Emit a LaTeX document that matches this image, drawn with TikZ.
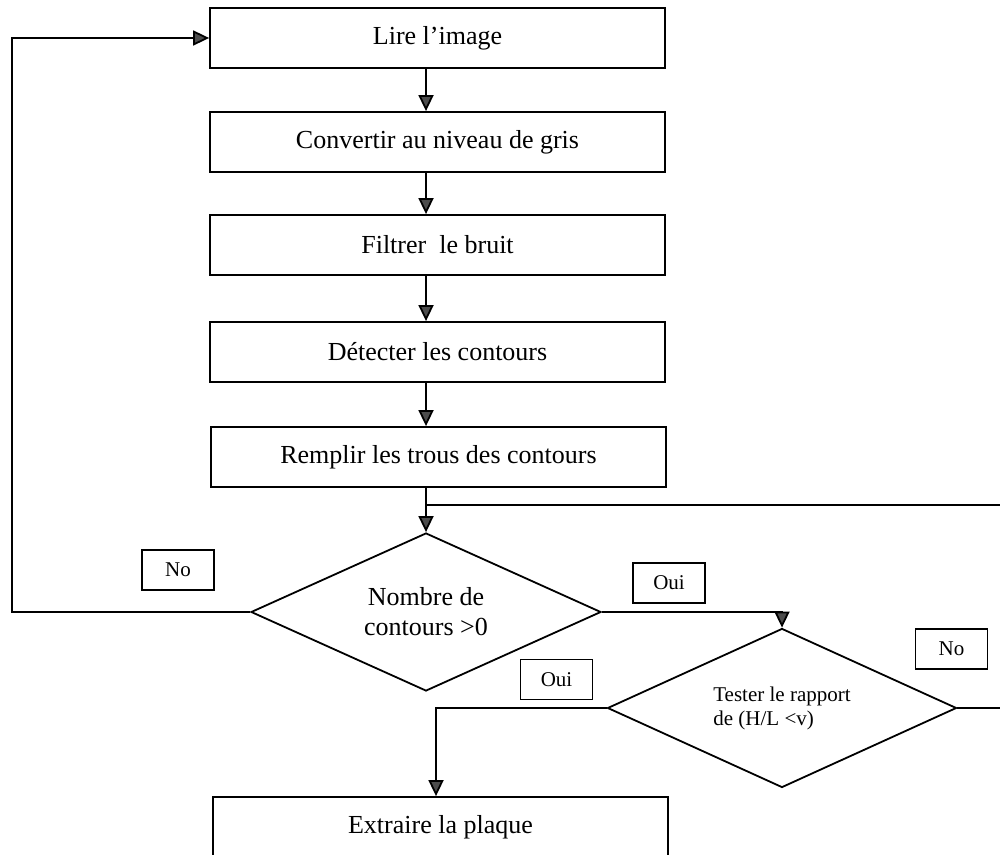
\documentclass[tikz,border=0pt]{standalone}
\usepackage{fontspec}
\setmainfont{Liberation Serif}
\usetikzlibrary{shapes.geometric,arrows.meta}
\begin{document}
\begin{tikzpicture}[x=.5pt, y=-.5pt, line width=.9pt,
  >={Triangle[length=8pt,width=7.5pt,fill=black!70]},
  boite/.style={draw, minimum width=227.5pt, minimum height=30pt, font=\fontsize{13}{15}\selectfont},
  test/.style={draw, diamond, shape aspect=2.2, inner sep=0pt},
  rep/.style={draw, line width=.8pt, minimum width=36pt, minimum height=20pt, inner sep=0pt, font=\fontsize{10.5}{12}\selectfont}]
\useasboundingbox (0,0) rectangle (1000,855);
\node[boite] (lire) at (437.5,38) {Lire l’image};
\node[boite] (gris) at (437.5,142) {Convertir au niveau de gris};
\node[boite] (bruit) at (437.5,245) {Filtrer~ le bruit};
\node[boite] (cont) at (437.5,352) {Détecter les contours};
\node[boite] (trous) at (438.5,457) {Remplir les trous des contours};
\node[test, minimum width=175pt, minimum height=79pt, align=center, font=\fontsize{13}{15}\selectfont] (nb) at (426,612) {Nombre de\\contours >0};
\node[test, minimum width=174.5pt, minimum height=79.5pt, align=left, font=\fontsize{10.5}{12}\selectfont] (rap) at (782,708) {Tester le rapport\\de (H/L <v)};
\node[boite] (plaque) at (440.5,827) {Extraire la plaque};

\node[rep] (non1) at (178,570) {No};
\node[rep] (oui1) at (669,583) {Oui};
\node[rep] (oui2) at (556.5,679.5) {Oui};
\node[rep] (non2) at (951.5,649) {No};

\coordinate (axe) at (426,0);
\coordinate (jonc) at (426,505);
\coordinate (bord1) at (1000,505);
\coordinate (bord2) at (1000,708);
\coordinate (gauche) at (12,612);
\coordinate (descente) at (436,0);

\foreach \a/\b in {lire/gris, gris/bruit, bruit/cont, cont/trous}
  \draw[->] (\a.south -| axe) -- (\b.north -| axe);
\draw[->] (trous.south -| axe) -- (nb.north);
\draw (jonc) -- (bord1);
\draw[->] (nb.west) -- (gauche) |- (lire.west);
\draw[->] (nb.east) -| (rap.north);
\draw (rap.east) -- (bord2);
\draw[->] (rap.west) -| (plaque.north -| descente);
\end{tikzpicture}
\end{document}
